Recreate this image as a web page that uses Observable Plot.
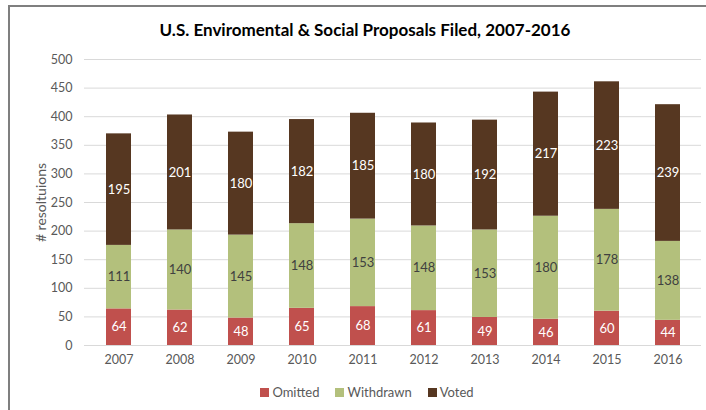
<!DOCTYPE html>
<html><head><meta charset="utf-8">
<script src="https://cdn.jsdelivr.net/npm/d3@7"></script>
<script src="https://cdn.jsdelivr.net/npm/@observablehq/plot@0.6"></script>
<style>
body{margin:0;background:#fff;font-family:Lato,"Open Sans",sans-serif;}
#wrap{position:relative;width:706px;height:410px;overflow:hidden;}
#frame{position:absolute;left:8px;top:5px;width:760px;height:460px;border:2px solid #7f7f7f;box-sizing:border-box;}
#title{position:absolute;left:0;top:19px;width:730px;text-align:center;font-size:17px;font-weight:bold;color:#000;}
#chart{position:absolute;left:0;top:48px;}
#legend{position:absolute;left:0;top:384px;width:734px;text-align:center;font-size:13px;color:#595959;}
#legend span.sw{display:inline-block;width:9px;height:9px;margin-right:3px;vertical-align:0px;}
#legend span.it{margin:0 8px;}
</style></head>
<body><div id="wrap"><div id="frame"></div>
<div id="title">U.S. Enviromental &amp; Social Proposals Filed, 2007-2016</div>
<div id="chart"></div>
<div id="legend"></div></div>
<script>
const years = ["2007","2008","2009","2010","2011","2012","2013","2014","2015","2016"];
const omitted = [64,62,48,65,68,61,49,46,60,44];
const withdrawn = [111,140,145,148,153,148,153,180,178,138];
const voted = [195,201,180,182,185,180,192,217,223,239];
const seriesNames = ["Omitted","Withdrawn","Voted"];
const seriesColors = ["#c0504d","#b3c07c","#563721"];
const labelColors = ["#ffffff","#404040","#ffffff"];
const yTicks = [0,50,100,150,200,250,300,350,400,450,500];

const colorOf = Object.fromEntries(seriesNames.map((s,i)=>[s,seriesColors[i]]));
const labelOf = Object.fromEntries(seriesNames.map((s,i)=>[s,labelColors[i]]));
const vals = [omitted, withdrawn, voted];
const data = [];
years.forEach((y,i)=>seriesNames.forEach((s,j)=>data.push({year:y,type:s,value:vals[j][i]})));

const plot = Plot.plot({
  width:706, height:322,
  marginLeft:84, marginRight:5, marginTop:11, marginBottom:25,
  style:{fontFamily:"Lato, 'Open Sans', sans-serif", fontSize:"12.5px", color:"#595959", background:"transparent"},
  x:{domain:years, paddingInner:0.595, paddingOuter:0.3, label:null, tickSize:0, tickPadding:10},
  y:{domain:[0,500], ticks:yTicks, label:"# resoltuions", labelAnchor:"center", labelArrow:"none", labelOffset:48, tickSize:0, tickPadding:12},
  color:{type:"identity"},
  marks:[
    Plot.gridY(yTicks,{stroke:"#d9d9d9", strokeOpacity:1}),
    Plot.barY(data, Plot.stackY({x:"year", y:"value", z:"type", fill:d=>colorOf[d.type]})),
    Plot.text(data, Plot.stackY({x:"year", y:"value", z:"type", text:d=>String(d.value), fill:d=>labelOf[d.type], fontSize:13}))
  ]
});
d3.select(plot).selectAll('g[aria-label="y-axis label"] text').attr("font-size", 14).attr("fill","#595959");
document.getElementById("chart").appendChild(plot);
document.getElementById("legend").innerHTML = seriesNames.map((s,i)=>`<span class="it"><span class="sw" style="background:${seriesColors[i]}"></span>${s}</span>`).join("");
</script></body></html>
